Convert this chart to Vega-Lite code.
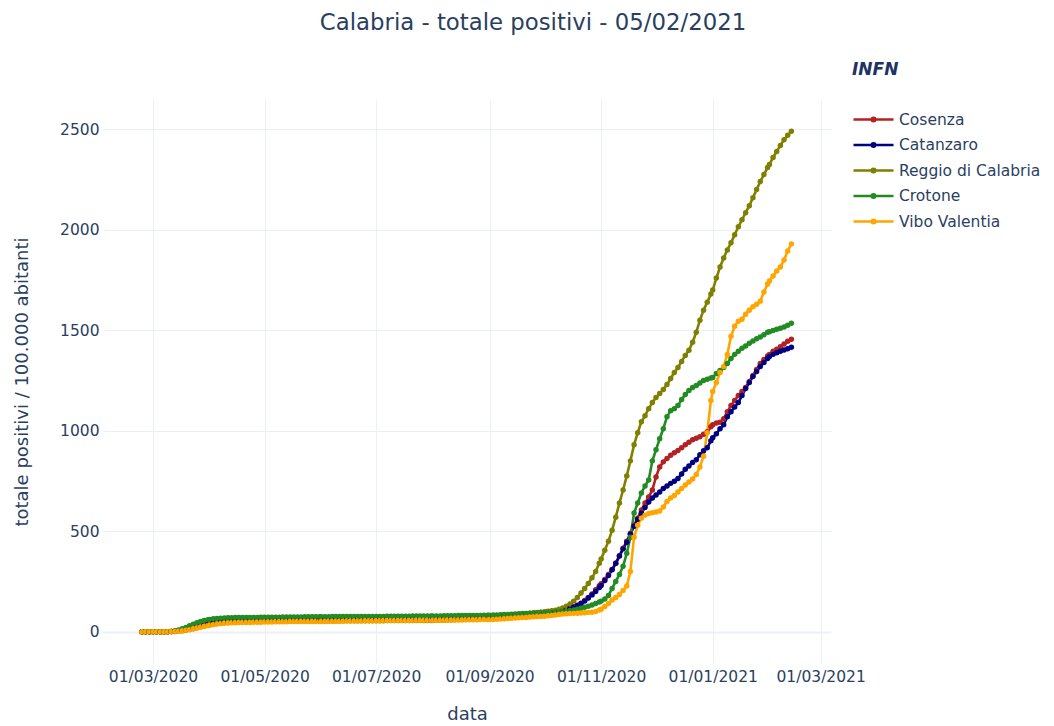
{
 "$schema": "https://vega.github.io/schema/vega-lite/v6.json",
 "autosize": {"type": "none"},
 "width": 728,
 "height": 563,
 "padding": {"left": 103, "top": 100, "right": 223, "bottom": 63},
 "background": "white",
 "title": {"text": "Calabria - totale positivi - 05/02/2021", "anchor": "middle", "frame": "group", "dx": 66, "offset": 27, "fontSize": 22.8, "color": "#2a3f5f", "fontWeight": "normal", "font": "DejaVu Sans"},
 "data": {"values": [
{"d":"2020-02-24","CS":0,"CZ":0,"RC":0,"KR":0,"VV":0},
{"d":"2020-02-26","CS":0,"CZ":0,"RC":0,"KR":0,"VV":0},
{"d":"2020-02-28","CS":0,"CZ":0,"RC":0,"KR":0,"VV":0},
{"d":"2020-03-01","CS":0,"CZ":0,"RC":0,"KR":0,"VV":0},
{"d":"2020-03-03","CS":0,"CZ":0,"RC":0,"KR":0,"VV":0},
{"d":"2020-03-05","CS":0,"CZ":0,"RC":0,"KR":0,"VV":0},
{"d":"2020-03-07","CS":0,"CZ":0,"RC":0,"KR":0,"VV":0},
{"d":"2020-03-09","CS":0,"CZ":0,"RC":0,"KR":0,"VV":0},
{"d":"2020-03-11","CS":1,"CZ":1,"RC":0.5,"KR":1,"VV":0.5},
{"d":"2020-03-13","CS":2,"CZ":2,"RC":1,"KR":3,"VV":1},
{"d":"2020-03-15","CS":4,"CZ":4,"RC":3,"KR":8,"VV":2},
{"d":"2020-03-17","CS":7,"CZ":6,"RC":5,"KR":14,"VV":4},
{"d":"2020-03-19","CS":10,"CZ":9,"RC":8,"KR":21,"VV":7},
{"d":"2020-03-21","CS":14,"CZ":13,"RC":11,"KR":29,"VV":10},
{"d":"2020-03-23","CS":19,"CZ":17,"RC":15,"KR":37,"VV":14},
{"d":"2020-03-25","CS":24,"CZ":22,"RC":19,"KR":44,"VV":18},
{"d":"2020-03-27","CS":29,"CZ":27,"RC":24,"KR":50,"VV":22},
{"d":"2020-03-29","CS":34,"CZ":32,"RC":28,"KR":55,"VV":26},
{"d":"2020-03-31","CS":39,"CZ":37,"RC":32,"KR":59,"VV":30},
{"d":"2020-04-01","CS":41,"CZ":39,"RC":34,"KR":61,"VV":32},
{"d":"2020-04-03","CS":45,"CZ":43,"RC":37,"KR":64,"VV":35},
{"d":"2020-04-05","CS":48,"CZ":46,"RC":40,"KR":66,"VV":38},
{"d":"2020-04-07","CS":51,"CZ":49,"RC":42,"KR":67,"VV":40},
{"d":"2020-04-09","CS":53,"CZ":51,"RC":44,"KR":68,"VV":42},
{"d":"2020-04-11","CS":55,"CZ":53,"RC":46,"KR":69,"VV":43},
{"d":"2020-04-13","CS":56,"CZ":54,"RC":47,"KR":69,"VV":44},
{"d":"2020-04-15","CS":57,"CZ":55,"RC":48,"KR":70,"VV":44},
{"d":"2020-04-17","CS":58,"CZ":56,"RC":49,"KR":70,"VV":45},
{"d":"2020-04-19","CS":59,"CZ":57,"RC":50,"KR":70,"VV":45},
{"d":"2020-04-21","CS":59,"CZ":57,"RC":50,"KR":71,"VV":46},
{"d":"2020-04-23","CS":60,"CZ":58,"RC":51,"KR":71,"VV":46},
{"d":"2020-04-25","CS":60,"CZ":58,"RC":51,"KR":71,"VV":47},
{"d":"2020-04-27","CS":60,"CZ":58,"RC":51,"KR":71,"VV":47},
{"d":"2020-04-29","CS":61,"CZ":59,"RC":52,"KR":72,"VV":47},
{"d":"2020-05-01","CS":61,"CZ":59,"RC":52,"KR":72,"VV":48},
{"d":"2020-05-03","CS":61,"CZ":59,"RC":52,"KR":72,"VV":48},
{"d":"2020-05-05","CS":61,"CZ":59,"RC":52,"KR":72,"VV":48},
{"d":"2020-05-07","CS":62,"CZ":59,"RC":52,"KR":72,"VV":49},
{"d":"2020-05-09","CS":62,"CZ":59,"RC":52,"KR":72,"VV":49},
{"d":"2020-05-11","CS":62,"CZ":59,"RC":52,"KR":73,"VV":49},
{"d":"2020-05-13","CS":62,"CZ":59,"RC":52,"KR":73,"VV":49},
{"d":"2020-05-15","CS":62,"CZ":60,"RC":53,"KR":73,"VV":50},
{"d":"2020-05-17","CS":62,"CZ":60,"RC":53,"KR":73,"VV":50},
{"d":"2020-05-19","CS":63,"CZ":60,"RC":53,"KR":73,"VV":50},
{"d":"2020-05-21","CS":63,"CZ":60,"RC":53,"KR":73,"VV":50},
{"d":"2020-05-23","CS":63,"CZ":60,"RC":53,"KR":74,"VV":50},
{"d":"2020-05-25","CS":63,"CZ":60,"RC":53,"KR":74,"VV":51},
{"d":"2020-05-27","CS":63,"CZ":60,"RC":53,"KR":74,"VV":51},
{"d":"2020-05-29","CS":63,"CZ":60,"RC":53,"KR":74,"VV":51},
{"d":"2020-05-31","CS":63,"CZ":60,"RC":53,"KR":74,"VV":51},
{"d":"2020-06-01","CS":63,"CZ":60,"RC":53,"KR":74,"VV":51},
{"d":"2020-06-03","CS":63,"CZ":60,"RC":53,"KR":74,"VV":51},
{"d":"2020-06-05","CS":63,"CZ":60,"RC":53,"KR":74,"VV":52},
{"d":"2020-06-07","CS":63,"CZ":60,"RC":53,"KR":75,"VV":52},
{"d":"2020-06-09","CS":63,"CZ":60,"RC":53,"KR":75,"VV":52},
{"d":"2020-06-11","CS":63,"CZ":60,"RC":53,"KR":75,"VV":52},
{"d":"2020-06-13","CS":64,"CZ":60,"RC":54,"KR":75,"VV":52},
{"d":"2020-06-15","CS":64,"CZ":60,"RC":54,"KR":75,"VV":53},
{"d":"2020-06-17","CS":64,"CZ":60,"RC":54,"KR":75,"VV":53},
{"d":"2020-06-19","CS":64,"CZ":60,"RC":54,"KR":75,"VV":53},
{"d":"2020-06-21","CS":64,"CZ":60,"RC":54,"KR":76,"VV":53},
{"d":"2020-06-23","CS":64,"CZ":60,"RC":54,"KR":76,"VV":53},
{"d":"2020-06-25","CS":64,"CZ":61,"RC":54,"KR":76,"VV":54},
{"d":"2020-06-27","CS":64,"CZ":61,"RC":54,"KR":76,"VV":54},
{"d":"2020-06-29","CS":64,"CZ":61,"RC":54,"KR":76,"VV":54},
{"d":"2020-07-01","CS":64,"CZ":61,"RC":54,"KR":76,"VV":54},
{"d":"2020-07-03","CS":64,"CZ":61,"RC":54,"KR":76,"VV":54},
{"d":"2020-07-05","CS":64,"CZ":61,"RC":54,"KR":76,"VV":55},
{"d":"2020-07-07","CS":65,"CZ":61,"RC":55,"KR":77,"VV":55},
{"d":"2020-07-09","CS":65,"CZ":61,"RC":55,"KR":77,"VV":55},
{"d":"2020-07-11","CS":65,"CZ":61,"RC":55,"KR":77,"VV":55},
{"d":"2020-07-13","CS":65,"CZ":61,"RC":55,"KR":77,"VV":56},
{"d":"2020-07-15","CS":65,"CZ":61,"RC":55,"KR":77,"VV":56},
{"d":"2020-07-17","CS":65,"CZ":62,"RC":55,"KR":77,"VV":56},
{"d":"2020-07-19","CS":65,"CZ":62,"RC":55,"KR":77,"VV":56},
{"d":"2020-07-21","CS":66,"CZ":62,"RC":55,"KR":78,"VV":56},
{"d":"2020-07-23","CS":66,"CZ":62,"RC":56,"KR":78,"VV":57},
{"d":"2020-07-25","CS":66,"CZ":62,"RC":56,"KR":78,"VV":57},
{"d":"2020-07-27","CS":66,"CZ":62,"RC":56,"KR":78,"VV":57},
{"d":"2020-07-29","CS":66,"CZ":62,"RC":56,"KR":78,"VV":57},
{"d":"2020-07-31","CS":66,"CZ":62,"RC":56,"KR":78,"VV":57},
{"d":"2020-08-01","CS":66,"CZ":62,"RC":56,"KR":78,"VV":57},
{"d":"2020-08-03","CS":67,"CZ":63,"RC":57,"KR":78,"VV":57},
{"d":"2020-08-05","CS":67,"CZ":63,"RC":57,"KR":78,"VV":57},
{"d":"2020-08-07","CS":67,"CZ":63,"RC":57,"KR":79,"VV":57},
{"d":"2020-08-09","CS":68,"CZ":64,"RC":58,"KR":79,"VV":58},
{"d":"2020-08-11","CS":68,"CZ":64,"RC":58,"KR":79,"VV":58},
{"d":"2020-08-13","CS":68,"CZ":65,"RC":59,"KR":79,"VV":58},
{"d":"2020-08-15","CS":69,"CZ":65,"RC":60,"KR":80,"VV":58},
{"d":"2020-08-17","CS":69,"CZ":66,"RC":60,"KR":80,"VV":58},
{"d":"2020-08-19","CS":70,"CZ":66,"RC":61,"KR":80,"VV":59},
{"d":"2020-08-21","CS":70,"CZ":67,"RC":62,"KR":80,"VV":59},
{"d":"2020-08-23","CS":70,"CZ":67,"RC":63,"KR":81,"VV":59},
{"d":"2020-08-25","CS":71,"CZ":68,"RC":64,"KR":81,"VV":59},
{"d":"2020-08-27","CS":71,"CZ":69,"RC":65,"KR":81,"VV":60},
{"d":"2020-08-29","CS":72,"CZ":69,"RC":65,"KR":82,"VV":60},
{"d":"2020-08-31","CS":72,"CZ":70,"RC":66,"KR":82,"VV":60},
{"d":"2020-09-01","CS":73,"CZ":71,"RC":67,"KR":82,"VV":60},
{"d":"2020-09-03","CS":74,"CZ":72,"RC":68,"KR":83,"VV":61},
{"d":"2020-09-05","CS":75,"CZ":73,"RC":70,"KR":83,"VV":62},
{"d":"2020-09-07","CS":77,"CZ":75,"RC":72,"KR":84,"VV":63},
{"d":"2020-09-09","CS":78,"CZ":77,"RC":74,"KR":85,"VV":64},
{"d":"2020-09-11","CS":80,"CZ":79,"RC":76,"KR":86,"VV":65},
{"d":"2020-09-13","CS":82,"CZ":81,"RC":79,"KR":87,"VV":67},
{"d":"2020-09-15","CS":84,"CZ":83,"RC":81,"KR":88,"VV":68},
{"d":"2020-09-17","CS":86,"CZ":85,"RC":84,"KR":89,"VV":69},
{"d":"2020-09-19","CS":88,"CZ":87,"RC":87,"KR":90,"VV":70},
{"d":"2020-09-21","CS":89,"CZ":89,"RC":89,"KR":90,"VV":71},
{"d":"2020-09-23","CS":91,"CZ":91,"RC":92,"KR":91,"VV":73},
{"d":"2020-09-25","CS":92,"CZ":92,"RC":94,"KR":92,"VV":74},
{"d":"2020-09-27","CS":93,"CZ":93,"RC":96,"KR":93,"VV":75},
{"d":"2020-09-29","CS":95,"CZ":95,"RC":97,"KR":93,"VV":76},
{"d":"2020-10-01","CS":96,"CZ":96,"RC":99,"KR":94,"VV":77},
{"d":"2020-10-03","CS":98,"CZ":98,"RC":101,"KR":95,"VV":79},
{"d":"2020-10-05","CS":100,"CZ":100,"RC":104,"KR":96,"VV":81},
{"d":"2020-10-07","CS":102,"CZ":102,"RC":107,"KR":97,"VV":83},
{"d":"2020-10-09","CS":105,"CZ":105,"RC":111,"KR":98,"VV":86},
{"d":"2020-10-11","CS":108,"CZ":108,"RC":118,"KR":100,"VV":88},
{"d":"2020-10-13","CS":112,"CZ":112,"RC":127,"KR":102,"VV":89},
{"d":"2020-10-15","CS":117,"CZ":116,"RC":138,"KR":105,"VV":90},
{"d":"2020-10-17","CS":124,"CZ":122,"RC":152,"KR":108,"VV":91},
{"d":"2020-10-19","CS":132,"CZ":130,"RC":170,"KR":112,"VV":92},
{"d":"2020-10-21","CS":142,"CZ":140,"RC":192,"KR":116,"VV":93},
{"d":"2020-10-23","CS":155,"CZ":152,"RC":215,"KR":121,"VV":94},
{"d":"2020-10-25","CS":170,"CZ":167,"RC":240,"KR":127,"VV":96},
{"d":"2020-10-27","CS":188,"CZ":183,"RC":268,"KR":133,"VV":97},
{"d":"2020-10-29","CS":208,"CZ":200,"RC":300,"KR":140,"VV":100},
{"d":"2020-10-31","CS":228,"CZ":220,"RC":340,"KR":148,"VV":108},
{"d":"2020-11-01","CS":238,"CZ":230,"RC":362,"KR":152,"VV":112},
{"d":"2020-11-03","CS":260,"CZ":255,"RC":405,"KR":162,"VV":125},
{"d":"2020-11-05","CS":285,"CZ":280,"RC":450,"KR":180,"VV":140},
{"d":"2020-11-07","CS":310,"CZ":308,"RC":505,"KR":215,"VV":158},
{"d":"2020-11-09","CS":340,"CZ":340,"RC":570,"KR":250,"VV":170},
{"d":"2020-11-11","CS":378,"CZ":376,"RC":640,"KR":285,"VV":185},
{"d":"2020-11-13","CS":415,"CZ":412,"RC":705,"KR":325,"VV":205},
{"d":"2020-11-15","CS":450,"CZ":445,"RC":775,"KR":390,"VV":227},
{"d":"2020-11-17","CS":490,"CZ":485,"RC":850,"KR":470,"VV":300},
{"d":"2020-11-19","CS":530,"CZ":525,"RC":930,"KR":590,"VV":470},
{"d":"2020-11-21","CS":565,"CZ":560,"RC":990,"KR":640,"VV":530},
{"d":"2020-11-23","CS":605,"CZ":590,"RC":1045,"KR":690,"VV":565},
{"d":"2020-11-25","CS":640,"CZ":618,"RC":1075,"KR":725,"VV":580},
{"d":"2020-11-27","CS":670,"CZ":645,"RC":1110,"KR":755,"VV":588},
{"d":"2020-11-29","CS":705,"CZ":665,"RC":1140,"KR":850,"VV":592},
{"d":"2020-12-01","CS":770,"CZ":680,"RC":1165,"KR":905,"VV":596},
{"d":"2020-12-03","CS":820,"CZ":695,"RC":1185,"KR":960,"VV":600},
{"d":"2020-12-05","CS":845,"CZ":712,"RC":1205,"KR":1010,"VV":620},
{"d":"2020-12-07","CS":862,"CZ":725,"RC":1230,"KR":1070,"VV":648},
{"d":"2020-12-09","CS":878,"CZ":738,"RC":1260,"KR":1100,"VV":665},
{"d":"2020-12-11","CS":890,"CZ":748,"RC":1290,"KR":1110,"VV":678},
{"d":"2020-12-13","CS":902,"CZ":762,"RC":1315,"KR":1125,"VV":695},
{"d":"2020-12-15","CS":915,"CZ":785,"RC":1345,"KR":1155,"VV":712},
{"d":"2020-12-17","CS":930,"CZ":808,"RC":1375,"KR":1180,"VV":730},
{"d":"2020-12-19","CS":943,"CZ":825,"RC":1400,"KR":1200,"VV":745},
{"d":"2020-12-21","CS":955,"CZ":842,"RC":1440,"KR":1215,"VV":760},
{"d":"2020-12-23","CS":962,"CZ":856,"RC":1490,"KR":1225,"VV":782},
{"d":"2020-12-25","CS":970,"CZ":880,"RC":1550,"KR":1237,"VV":820},
{"d":"2020-12-27","CS":982,"CZ":900,"RC":1600,"KR":1250,"VV":873},
{"d":"2020-12-29","CS":995,"CZ":915,"RC":1640,"KR":1256,"VV":990},
{"d":"2020-12-31","CS":1020,"CZ":950,"RC":1680,"KR":1262,"VV":1150},
{"d":"2021-01-01","CS":1030,"CZ":965,"RC":1700,"KR":1265,"VV":1195},
{"d":"2021-01-03","CS":1038,"CZ":985,"RC":1760,"KR":1285,"VV":1240},
{"d":"2021-01-05","CS":1042,"CZ":1010,"RC":1815,"KR":1300,"VV":1290},
{"d":"2021-01-07","CS":1060,"CZ":1030,"RC":1860,"KR":1315,"VV":1320},
{"d":"2021-01-09","CS":1095,"CZ":1070,"RC":1900,"KR":1335,"VV":1380},
{"d":"2021-01-11","CS":1125,"CZ":1095,"RC":1935,"KR":1360,"VV":1470},
{"d":"2021-01-13","CS":1150,"CZ":1118,"RC":1975,"KR":1380,"VV":1520},
{"d":"2021-01-15","CS":1175,"CZ":1140,"RC":2015,"KR":1395,"VV":1545},
{"d":"2021-01-17","CS":1195,"CZ":1175,"RC":2050,"KR":1410,"VV":1555},
{"d":"2021-01-19","CS":1215,"CZ":1210,"RC":2085,"KR":1422,"VV":1580},
{"d":"2021-01-21","CS":1245,"CZ":1240,"RC":2120,"KR":1435,"VV":1600},
{"d":"2021-01-23","CS":1275,"CZ":1270,"RC":2160,"KR":1447,"VV":1617},
{"d":"2021-01-25","CS":1305,"CZ":1295,"RC":2200,"KR":1458,"VV":1630},
{"d":"2021-01-27","CS":1335,"CZ":1320,"RC":2240,"KR":1467,"VV":1645},
{"d":"2021-01-29","CS":1355,"CZ":1340,"RC":2275,"KR":1478,"VV":1690},
{"d":"2021-01-31","CS":1372,"CZ":1360,"RC":2310,"KR":1490,"VV":1730},
{"d":"2021-02-01","CS":1380,"CZ":1369,"RC":2325,"KR":1493,"VV":1745},
{"d":"2021-02-03","CS":1395,"CZ":1380,"RC":2360,"KR":1499,"VV":1770},
{"d":"2021-02-05","CS":1405,"CZ":1388,"RC":2390,"KR":1505,"VV":1795},
{"d":"2021-02-07","CS":1418,"CZ":1395,"RC":2420,"KR":1510,"VV":1815},
{"d":"2021-02-09","CS":1432,"CZ":1402,"RC":2448,"KR":1516,"VV":1850},
{"d":"2021-02-11","CS":1445,"CZ":1408,"RC":2470,"KR":1525,"VV":1895},
{"d":"2021-02-13","CS":1455,"CZ":1415,"RC":2490,"KR":1535,"VV":1930}
 ]},
 "transform": [{"fold": ["CS", "CZ", "RC", "KR", "VV"], "as": ["prov", "val"]}],
 "mark": {"type": "line", "strokeWidth": 2.6, "point": {"filled": true, "size": 30}},
 "encoding": {
  "x": {"field": "d", "type": "temporal",
   "scale": {"type": "utc", "nice": false, "domain": [{"year": 2020, "month": 2, "date": 2, "hours": 16, "utc": true}, {"year": 2021, "month": 3, "date": 6, "hours": 16, "utc": true}]},
   "axis": {"title": "data", "format": "%d/%m/%Y", "tickCount": {"interval": "month", "step": 2}, "labelFontSize": 15.5, "labelColor": "#2a3f5f", "titleFontSize": 18, "titleColor": "#2a3f5f", "titleFontWeight": "normal", "ticks": false, "domain": false, "grid": true, "gridColor": "#ebf0f8", "gridWidth": 1, "labelPadding": 6, "titlePadding": 21, "labelFlush": false, "labelOverlap": false}},
  "y": {"field": "val", "type": "quantitative",
   "scale": {"domain": [-156, 2646], "nice": false, "zero": false},
   "axis": {"title": "totale positivi / 100.000 abitanti", "values": [0, 500, 1000, 1500, 2000, 2500], "format": "d", "labelFontSize": 15.5, "labelColor": "#2a3f5f", "titleFontSize": 18, "titleColor": "#2a3f5f", "titleFontWeight": "normal", "ticks": false, "domain": false, "grid": true, "gridColor": "#ebf0f8", "gridWidth": {"condition": {"test": "datum.value === 0", "value": 2}, "value": 1}, "labelPadding": 4, "titlePadding": 28}},
  "color": {"field": "prov", "type": "nominal",
   "scale": {"domain": ["CS", "CZ", "RC", "KR", "VV"], "range": ["#b22222", "#000080", "#808000", "#228b22", "#ffa500"]},
   "legend": {"title": "INFN", "orient": "none", "legendX": 749, "legendY": -38, "direction": "vertical",
    "labelExpr": "{'CS': 'Cosenza', 'CZ': 'Catanzaro', 'RC': 'Reggio di Calabria', 'KR': 'Crotone', 'VV': 'Vibo Valentia'}[datum.label]",
    "symbolType": "M-2,0H2M-0.18,0A0.18,0.18,0,1,0,0.18,0A0.18,0.18,0,1,0,-0.18,0", "symbolSize": 400, "symbolStrokeWidth": 2.5, "symbolOffset": 10,
    "labelFontSize": 15.5, "labelColor": "#2a3f5f", "labelOffset": 14, "rowPadding": 5.5,
    "titleFontSize": 17, "titleFontWeight": "bold", "titleFontStyle": "italic", "titleColor": "#1e3264", "titlePadding": 29}}
 },
 "config": {"view": {"stroke": null}, "font": "DejaVu Sans"}
}
